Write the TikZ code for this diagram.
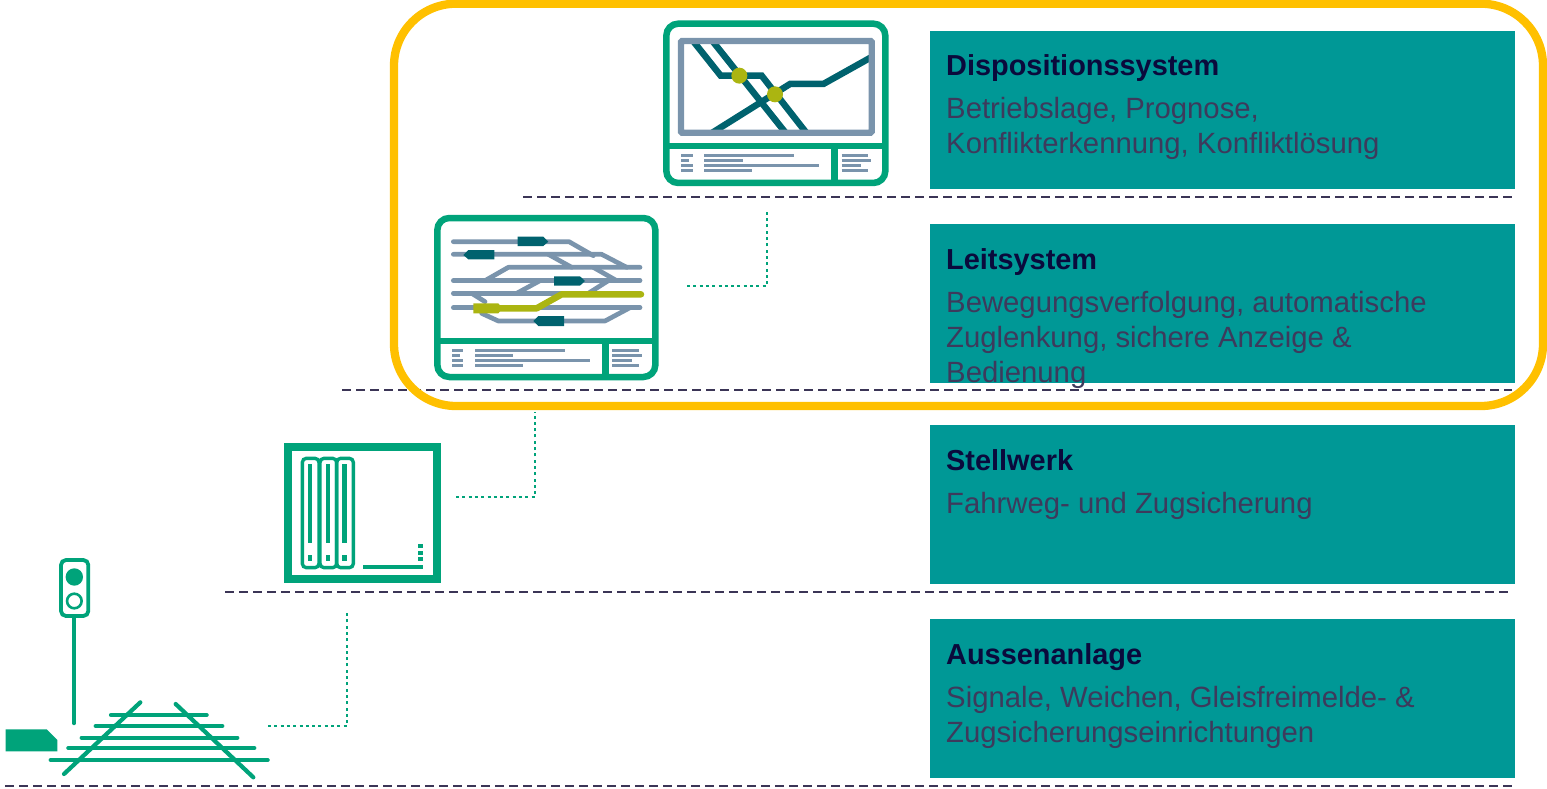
\documentclass[tikz,border=0pt]{standalone}
\usepackage{fontspec}
\setmainfont{Liberation Sans}
\definecolor{grn}{HTML}{00A37A}
\definecolor{boxc}{HTML}{009896}
\definecolor{ylw}{HTML}{FFC000}
\definecolor{gry}{HTML}{7A94AC}
\definecolor{dteal}{HTML}{00626E}
\definecolor{olv}{HTML}{ABB511}
\definecolor{ttl}{HTML}{0A0A3C}
\definecolor{bdy}{HTML}{3D3A5C}
\definecolor{dsh}{HTML}{3B3556}
\tikzset{
  panel/.style={fill=boxc,draw=none,anchor=north west,inner sep=0pt,minimum width=585pt},
  ttltext/.style={anchor=base west,inner sep=0pt,font=\fontsize{28.9}{35.3}\selectfont\bfseries,text=ttl},
  bdytext/.style={anchor=north west,inner sep=0pt,align=left,font=\fontsize{29.3}{35.3}\selectfont,text=bdy},
  levelline/.style={draw=dsh,line width=2.8pt,dash pattern=on 8.6pt off 5.4pt},
  link/.style={draw=grn,line width=2.8pt,dash pattern=on 3pt off 3.3pt},
  frame/.style={draw=grn,line width=6.5pt,rounded corners=12pt},
  txtl/.style={draw=gry,line width=3pt},
  gtrack/.style={draw=gry,line width=4.7pt,line cap=round,line join=round},
  dtrack/.style={draw=dteal,line width=6.5pt,line join=miter},
  sleeper/.style={draw=grn,line width=4.2pt,line cap=round},
}
\begin{document}
\begin{tikzpicture}[x=1pt,y=-1pt]
\useasboundingbox (0,0) rectangle (1547,789);
% panels
\node[panel,minimum height=158pt] (p1) at (930,31) {};
\node[panel,minimum height=159pt] (p2) at (930,224) {};
\node[panel,minimum height=159pt] (p3) at (930,425) {};
\node[panel,minimum height=159pt] (p4) at (930,619) {};
% texts
\node[ttltext] (t1) at (946,75.5) {Dispositionssystem};
\node[bdytext] (b1) at (946,96.8) {Betriebslage, Prognose,\\Konflikterkennung, Konfliktlösung};
\node[ttltext] (t2) at (946,269.5) {Leitsystem};
\node[bdytext] (b2) at (946,290.8) {Bewegungsverfolgung, automatische\\Zuglenkung, sichere Anzeige \&\\Bedienung};
\node[ttltext] (t3) at (946,470.5) {Stellwerk};
\node[bdytext] (b3) at (946,491.8) {Fahrweg- und Zugsicherung};
\node[ttltext] (t4) at (946,664.5) {Aussenanlage};
\node[bdytext] (b4) at (946,685.8) {Signale, Weichen, Gleisfreimelde- \&\\Zugsicherungseinrichtungen};
% level lines
\coordinate (l1a) at (523,197); \coordinate (l1b) at (1512,197);
\coordinate (l2a) at (342,390); \coordinate (l2b) at (1512,390);
\coordinate (l3a) at (225,592); \coordinate (l3b) at (1508,592);
\coordinate (l4a) at (5,786);   \coordinate (l4b) at (1512,786);
\draw[levelline] (l1a) -- (l1b);
\draw[levelline] (l2a) -- (l2b);
\draw[levelline] (l3a) -- (l3b);
\draw[levelline] (l4a) -- (l4b);
% yellow frame
\draw[ylw,line width=8.3pt,rounded corners=62pt] (394,3.7) rectangle (1543,406);
% connectors
\coordinate (c1a) at (687,286); \coordinate (c1b) at (767,286); \coordinate (c1c) at (767,211);
\coordinate (c2a) at (456,497); \coordinate (c2b) at (535,497); \coordinate (c2c) at (535,412);
\coordinate (c3a) at (268,726); \coordinate (c3b) at (347,726); \coordinate (c3c) at (347,611);
\draw[link] (c1a) -- (c1b) -- (c1c);
\draw[link] (c2a) -- (c2b) -- (c2c);
\draw[link] (c3a) -- (c3b) -- (c3c);
% icon 1: Disposition
\begin{scope}[shift={(650,10)},x=0.33333pt,y=-0.33333pt]
  \begin{scope}
    \clip (93,93) rectangle (665,368);
    \draw[dtrack] (119,80) -- (212,197) -- (335,197) -- (478,380);
    \draw[dtrack] (177,80) -- (416,380);
    \draw[dtrack] (168,380) -- (420,222) -- (520,222) -- (690,127);
  \end{scope}
  \fill[olv] (268,197) circle (8pt);
  \fill[olv] (375,253) circle (8pt);
  \draw[draw=gry,line width=6.2pt,rounded corners=1pt] (93,93) rectangle (665,368);
  \draw[frame] (49,41) rectangle (706,519);
  \draw[draw=grn,line width=6.5pt] (49,408) -- (706,408);
  \draw[draw=grn,line width=6.5pt] (553,408) -- (553,519);
  \foreach \a/\b/\y in {93/128/437,93/118/452,93/128/467,93/128/482,163/432/437,163/278/452,163/507/467,163/305/482,575/655/437,575/663/452,575/633/467,575/655/482}
    \draw[txtl] (\a,\y) -- (\b,\y);
\end{scope}
% icon 2: Leitsystem
\begin{scope}[shift={(425,205)},x=0.33333pt,y=-0.33333pt]
  \draw[gtrack] (85,110) -- (432,110) -- (505,152);
  \draw[gtrack] (85,148) -- (530,148) -- (605,187);
  \draw[gtrack] (370,148) -- (440,187);
  \draw[gtrack] (180,227) -- (250,187) -- (645,187);
  \draw[gtrack] (505,187) -- (575,227);
  \draw[gtrack] (85,227) -- (645,227);
  \draw[gtrack] (275,265) -- (345,227);
  \draw[gtrack] (85,265) -- (420,265);
  \draw[gtrack] (490,265) -- (550,227);
  \draw[gtrack] (140,265) -- (180,290);
  \draw[gtrack] (170,325) -- (220,348) -- (540,348) -- (615,308);
  \draw[gtrack] (85,308) -- (645,308);
  \draw[draw=olv,line width=6.5pt,line cap=round,line join=round] (180,310) -- (335,310) -- (410,268) -- (648,268);
  \fill[olv] (145,295) -- (220,295) -- (232,310) -- (220,325) -- (145,325) -- cycle;
  \fill[dteal] (278,95) -- (355,95) -- (370,110) -- (355,123) -- (278,123) -- cycle;
  \fill[dteal] (208,135) -- (130,135) -- (115,150) -- (130,163) -- (208,163) -- cycle;
  \fill[dteal] (387,214) -- (465,214) -- (480,228) -- (465,242) -- (387,242) -- cycle;
  \fill[dteal] (417,333) -- (340,333) -- (325,348) -- (340,363) -- (417,363) -- cycle;
  \draw[frame] (37,39) rectangle (691,516);
  \draw[draw=grn,line width=6.5pt] (37,408) -- (691,408);
  \draw[draw=grn,line width=6.5pt] (541,408) -- (541,516);
  \foreach \a/\b/\y in {82/115/436,82/105/451,82/115/466,82/115/481,150/420/436,150/265/451,150/495/466,150/293/481,562/642/436,562/651/451,562/621/466,562/642/481}
    \draw[txtl] (\a,\y) -- (\b,\y);
\end{scope}
% icon 3: Stellwerk
\begin{scope}[shift={(270,430)},x=0.33333pt,y=-0.33333pt]
  \draw[draw=grn,line width=8pt] (54,52) rectangle (501,446);
  \foreach \a/\b in {97/147,150/200,200/250}
    \draw[draw=grn,line width=3.4pt,rounded corners=4pt] (\a,85) rectangle (\b,413);
  \foreach \x in {120,174,224} {
    \fill[grn] (\x-7,103) rectangle (\x+7,340);
    \fill[grn] (\x-7,375) rectangle (\x+7,393);
  }
  \fill[grn] (278,406) rectangle (460,418);
  \foreach \y in {342,362,381} \fill[grn] (443,\y) rectangle (460,\y+13);
\end{scope}
% icon 4: Aussenanlage
\begin{scope}[shift={(0,550)},x=0.33333pt,y=-0.33333pt]
  \draw[draw=grn,line width=3.8pt,rounded corners=5pt] (183,30) rectangle (265,198);
  \fill[grn] (223,81) circle (8.7pt);
  \draw[draw=grn,line width=2.6pt] (223,153) circle (7.3pt);
  \draw[draw=grn,line width=3.8pt,line cap=round] (222,198) -- (222,520);
  \fill[grn] (17,538) -- (140,538) -- (172,570) -- (172,604) -- (17,604) -- cycle;
  \draw[sleeper] (333,495) -- (620,495);
  \draw[sleeper] (287,528) -- (667,528);
  \draw[sleeper] (245,563) -- (712,563);
  \draw[sleeper] (205,594) -- (763,594);
  \draw[sleeper] (152,630) -- (803,630);
  \draw[sleeper] (192,672) -- (421,457);
  \draw[sleeper] (527,462) -- (760,682);
\end{scope}
\end{tikzpicture}
\end{document}
